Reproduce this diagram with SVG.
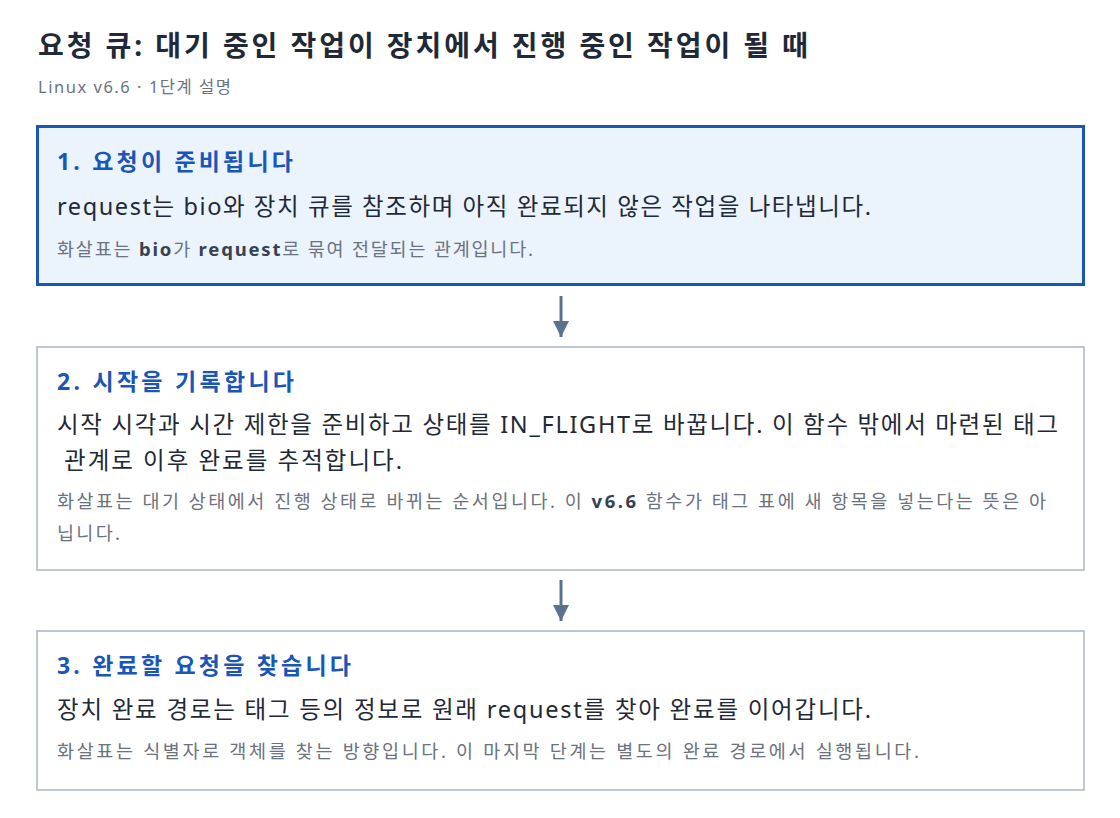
<svg xmlns="http://www.w3.org/2000/svg" width="1120" height="818" viewBox="0 0 1120 818">
<style>
text{font-family:"Noto Sans","Noto Sans CJK KR",sans-serif}
.title{font-size:28px;font-weight:700;fill:#1f2937}
.sub{font-size:16.5px;fill:#6b7280}
.h{font-size:23px;font-weight:700;fill:#1a56b8}
.body{font-size:23.5px;fill:#1f2937}
.note{font-size:18.5px;fill:#6b7280}
.note .b{font-weight:700;fill:#374151}
.box{fill:#ffffff;stroke:#aab6c4;stroke-width:1.5}
.box.active{fill:#ebf3fd;stroke:#1a56b8;stroke-width:3}
.conn{stroke:#5a7290;stroke-width:3;fill:none}
</style>
<defs>
<marker id="ah" viewBox="0 0 10 10" refX="10" refY="5" markerWidth="5.5" markerHeight="5.5" orient="auto" markerUnits="strokeWidth">
<path d="M0,0 L10,5 L0,10 z" fill="#5a7290"/>
</marker>
</defs>
<rect width="1120" height="818" fill="#ffffff"/>
<text class="title" x="38" y="56" textLength="770" lengthAdjust="spacing">요청 큐: 대기 중인 작업이 장치에서 진행 중인 작업이 될 때</text>
<text class="sub" x="38" y="93" textLength="193" lengthAdjust="spacing">Linux v6.6 · 1단계 설명</text>
<g id="connectors">
<line class="conn" x1="561" y1="296" x2="561" y2="337" marker-end="url(#ah)"/>
<line class="conn" x1="561" y1="580" x2="561" y2="621" marker-end="url(#ah)"/>
</g>
<g id="step1">
<rect class="box active" x="37.5" y="126.5" width="1046" height="158"/>
<text class="h" x="57" y="170" textLength="236" lengthAdjust="spacing">1. 요청이 준비됩니다</text>
<text class="body" x="57" y="215" textLength="814" lengthAdjust="spacing">request는 bio와 장치 큐를 참조하며 아직 완료되지 않은 작업을 나타냅니다.</text>
<text class="note" x="57" y="256" textLength="476" lengthAdjust="spacing">화살표는 <tspan class="b">bio</tspan>가 <tspan class="b">request</tspan>로 묶여 전달되는 관계입니다.</text>
</g>
<g id="step2">
<rect class="box" x="37" y="347" width="1047" height="223"/>
<text class="h" x="57" y="390" textLength="237" lengthAdjust="spacing">2. 시작을 기록합니다</text>
<text class="body" x="57" y="433" textLength="1001" lengthAdjust="spacing">시작 시각과 시간 제한을 준비하고 상태를 IN_FLIGHT로 바꿉니다. 이 함수 밖에서 마련된 태그</text>
<text class="body" x="64" y="469" textLength="338" lengthAdjust="spacing">관계로 이후 완료를 추적합니다.</text>
<text class="note" x="57" y="508" textLength="989" lengthAdjust="spacing">화살표는 대기 상태에서 진행 상태로 바뀌는 순서입니다. 이 <tspan class="b">v6.6</tspan> 함수가 태그 표에 새 항목을 넣는다는 뜻은 아</text>
<text class="note" x="57" y="540" textLength="63" lengthAdjust="spacing">닙니다.</text>
</g>
<g id="step3">
<rect class="box" x="37" y="631" width="1047" height="159"/>
<text class="h" x="57" y="674" textLength="294" lengthAdjust="spacing">3. 완료할 요청을 찾습니다</text>
<text class="body" x="57" y="718" textLength="814" lengthAdjust="spacing">장치 완료 경로는 태그 등의 정보로 원래 request를 찾아 완료를 이어갑니다.</text>
<text class="note" x="57" y="758" textLength="862" lengthAdjust="spacing">화살표는 식별자로 객체를 찾는 방향입니다. 이 마지막 단계는 별도의 완료 경로에서 실행됩니다.</text>
</g>
</svg>
